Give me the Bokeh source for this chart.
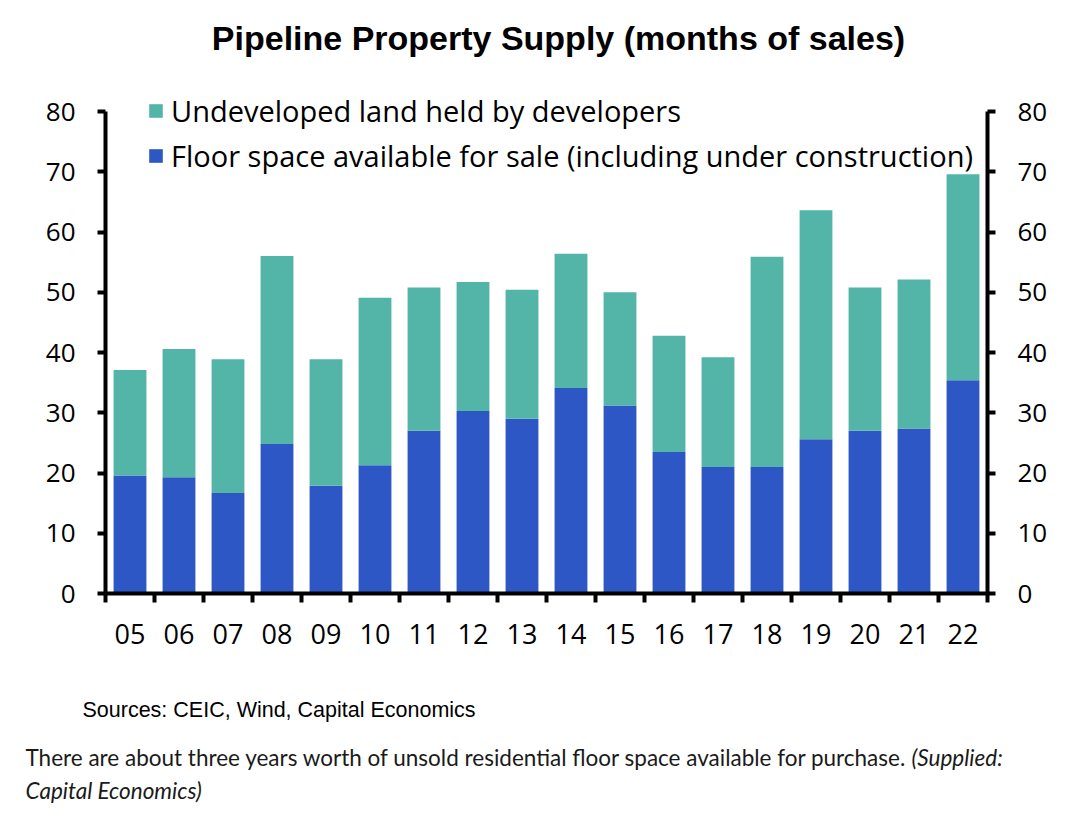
from bokeh.plotting import figure
from bokeh.models import (Range1d, LinearAxis, FixedTicker, Label, Legend,
                          LegendItem, ColumnDataSource)
from bokeh.embed import file_html
from bokeh.resources import INLINE

# ---- data (months of sales) ----
years = ["05", "06", "07", "08", "09", "10", "11", "12", "13",
         "14", "15", "16", "17", "18", "19", "20", "21", "22"]
floor_space = [19.6, 19.3, 16.7, 24.8, 17.9, 21.3, 27.0, 30.3, 29.0,
               34.1, 31.2, 23.5, 21.0, 21.0, 25.6, 27.0, 27.4, 35.4]
undeveloped_land = [17.5, 21.3, 22.2, 31.2, 21.0, 27.8, 23.8, 21.4, 21.4,
                    22.3, 18.8, 19.3, 18.2, 34.9, 38.0, 23.8, 24.7, 34.2]
y_ticks = [0, 10, 20, 30, 40, 50, 60, 70, 80]

title_text = "Pipeline Property Supply (months of sales)"
legend_land = "Undeveloped land held by developers"
legend_floor = "Floor space available for sale (including under construction)"
sources_text = "Sources: CEIC, Wind, Capital Economics"
caption_1 = "There are about three years worth of unsold residential floor space available for purchase."
caption_1_it = "(Supplied:"
caption_2_it = "Capital Economics)"

TEAL = "#53B5A8"
BLUE = "#2E57C6"

# ---- layout geometry (pixels) ----
W, H = 1080, 813
AX_L, AX_R = 105, 987          # left / right axis lines
AX_B, AX_80 = 593, 111         # pixel rows of 0 and 80
n = len(years)
px_cat = (AX_R - AX_L) / n
px_unit = (AX_B - AX_80) / 80

x_start = -0.5 - AX_L / px_cat
x_end = -0.5 + (W - AX_L) / px_cat
y_start = -(H - AX_B) / px_unit
y_end = AX_B / px_unit

idx = list(range(n))
src = ColumnDataSource(dict(x=idx, floor=floor_space, land=undeveloped_land))

p = figure(width=W, height=H,
           x_range=Range1d(x_start, x_end), y_range=Range1d(y_start, y_end),
           output_backend="svg", toolbar_location=None,
           x_axis_location=None, y_axis_location=None,
           min_border=0, outline_line_color=None,
           background_fill_color="white", border_fill_color="white")
p.xgrid.visible = False
p.ygrid.visible = False

renderers = p.vbar_stack(["floor", "land"], x="x", width=0.67,
                         color=[BLUE, TEAL], line_color=None, source=src)
r_floor, r_land = renderers

TICK_FONT = "Open Sans"

# bottom axis: labels at centres, tick marks at category boundaries
xa = LinearAxis(fixed_location=0, bounds=(-0.5, n - 0.5))
xa.ticker = FixedTicker(ticks=idx, minor_ticks=[i - 0.5 for i in range(n + 1)])
xa.major_label_overrides = {i: y for i, y in zip(idx, years)}
xa.major_tick_out = 0
xa.major_tick_in = 0
xa.minor_tick_out = 9
xa.minor_tick_in = 0
xa.minor_tick_line_width = 4
xa.minor_tick_line_color = "black"
xa.axis_line_width = 4
xa.axis_line_color = "black"
xa.major_label_standoff = 21
xa.major_label_text_font = TICK_FONT
xa.major_label_text_font_size = "27px"
xa.major_label_text_color = "black"
p.add_layout(xa, "below")

def make_y(loc):
    ax = LinearAxis(fixed_location=loc, bounds=(0, 80))
    ax.ticker = FixedTicker(ticks=y_ticks, minor_ticks=[])
    ax.major_tick_out = 8
    ax.major_tick_in = 0
    ax.minor_tick_out = 0
    ax.minor_tick_in = 0
    ax.major_tick_line_width = 4
    ax.major_tick_line_color = "black"
    ax.axis_line_width = 4
    ax.axis_line_color = "black"
    ax.major_label_standoff = 22
    ax.major_label_text_font = TICK_FONT
    ax.major_label_text_font_size = "26px"
    ax.major_label_text_color = "black"
    return ax

p.add_layout(make_y(-0.5), "left")
p.add_layout(make_y(n - 0.5), "right")

legend = Legend(items=[LegendItem(label=legend_land, renderers=[r_land]),
                       LegendItem(label=legend_floor, renderers=[r_floor])],
                location=(147, H - 174.5), orientation="vertical",
                border_line_color=None, background_fill_alpha=0,
                padding=0, margin=0, spacing=6,
                glyph_width=17, glyph_height=17, label_standoff=7,
                label_text_font="Open Sans", label_text_font_size="29px",
                label_text_color="black")
p.add_layout(legend)

def lab(text, x, y, font, size, style="normal", align="left", color="black"):
    # x, y given as pixel position from the top-left of the picture
    p.add_layout(Label(x=x, y=H - y, x_units="screen", y_units="screen",
                       text=text, text_align=align, text_baseline="middle",
                       text_font=font, text_font_size=size,
                       text_font_style=style, text_color=color))

lab(title_text, 558, 37, "Liberation Sans", "34px", "bold", "center")
lab(sources_text, 82, 709, "Liberation Sans", "21.5px")
lab(caption_1, 25, 757, "Lato", "22.5px", color="#1a1a1a")
lab(caption_1_it, 911, 757, "Lato", "22.5px", "italic", color="#1a1a1a")
lab(caption_2_it, 25, 790, "Lato", "22.5px", "italic", color="#1a1a1a")

open("out.html", "w").write(file_html(p, INLINE))
